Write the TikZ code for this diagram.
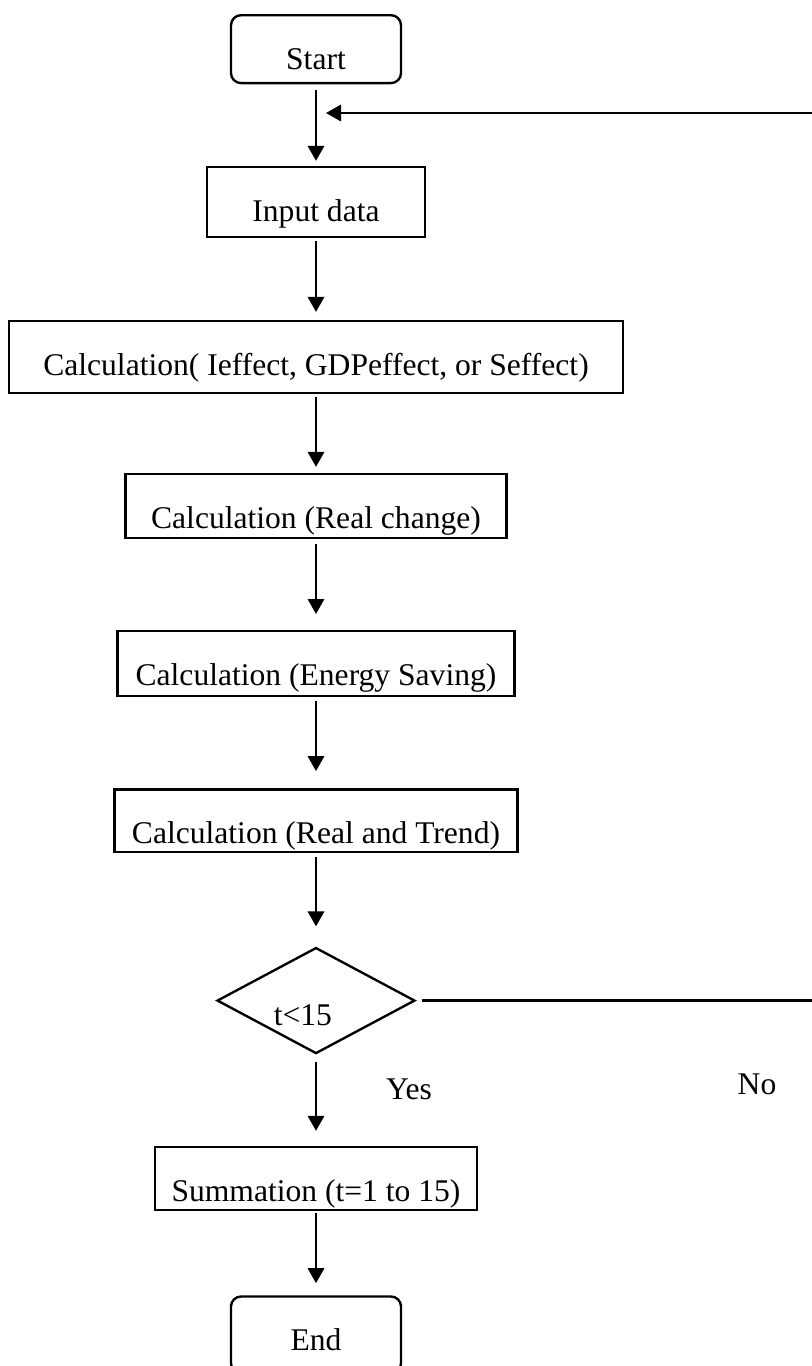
\documentclass[tikz,border=0pt]{standalone}
\usepackage{fontspec}
\setmainfont{Liberation Serif}
\usetikzlibrary{shapes.geometric,arrows.meta,positioning}

\begin{document}
\begin{tikzpicture}[
    x=0.38pt, y=-0.38pt,
    node distance=31pt,
    every node/.style={font=\fontsize{12}{14}\selectfont},
    base/.style={draw, line width=0.9pt, inner xsep=0pt, inner ysep=0pt,
                 text height=20.7pt},
    term/.style={base, rounded corners=3.8pt, minimum width=64.6pt},
    proc/.style={base},
    cond/.style={draw, diamond, line width=0.9pt, inner sep=0pt,
                 minimum width=75.2pt, minimum height=40.3pt},
    arr/.style={-{Triangle[length=5.7pt, width=6.2pt]}, line width=0.9pt},
  ]
  \useasboundingbox (0,0) rectangle (812,1366);
  \clip (0,0) rectangle (812,1366);
  \node[term, text depth=5.1pt, anchor=north] (start) at (316,14) {Start};
  \node[proc, minimum width=82.8pt, text depth=5.9pt, below=of start] (input)
    {Input data};
  \node[proc, minimum width=233.3pt, text depth=6.7pt, below=of input] (calc)
    {Calculation( Ieffect, GDPeffect, or Seffect)};
  \node[proc, minimum width=144.8pt, text depth=3.6pt, below=29.9pt of calc] (real)
    {Calculation (Real change)};
  \node[proc, minimum width=150.9pt, text depth=4pt, below=34.5pt of real] (save)
    {Calculation (Energy Saving)};
  \node[proc, minimum width=153.1pt, text depth=3.2pt, below=34.5pt of save] (trend)
    {Calculation (Real and Trend)};
  \node[cond, below=35.3pt of trend] (test)
    {\hspace*{-10pt}\raisebox{-9.4pt}[0pt][0pt]{t<15}};
  \node[proc, minimum width=122.4pt, text depth=3.2pt, below=34.6pt of test] (sum)
    {Summation (t=1 to 15)};
  \node[term, text depth=8.5pt, below=32pt of sum] (end) {End};
  \node (yes) at (409,1089) {Yes};
  \node (no) at (757,1084) {No};
  \coordinate (join) at (316,113);
  \coordinate (back) at (840,1000);
  \draw[arr, shorten <=2.3pt, shorten >=1.9pt] (start) -- (input);
  \draw[arr, shorten <=1.1pt, shorten >=3pt] (input) -- (calc);
  \draw[arr, shorten <=1.1pt, shorten >=2.3pt] (calc) -- (real);
  \draw[arr, shorten <=1.9pt, shorten >=6.1pt] (real) -- (save);
  \draw[arr, shorten <=1.5pt, shorten >=6.5pt] (save) -- (trend);
  \draw[arr, shorten <=1.5pt, shorten >=7.6pt] (trend) -- (test);
  \draw[arr, shorten <=2.7pt, shorten >=5.7pt] (test) -- (sum);
  \draw[arr, shorten <=0.8pt, shorten >=4.6pt] (sum) -- (end);
  \draw[arr, shorten <=2.3pt, shorten >=3.8pt] (test.east) -- (test.east -| back) |- (join);
\end{tikzpicture}
\end{document}
